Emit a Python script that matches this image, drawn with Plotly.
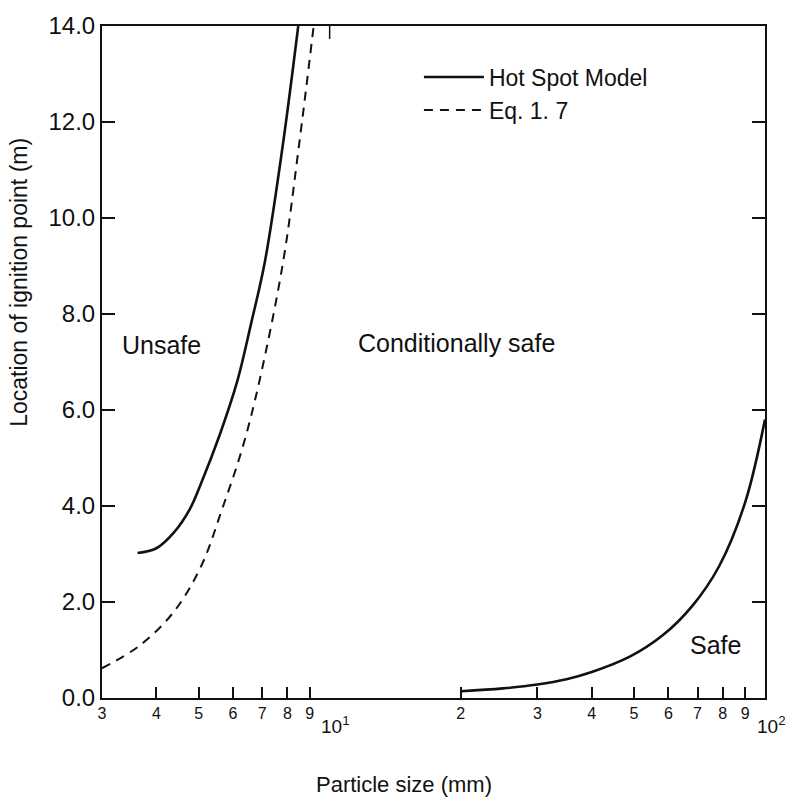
import math
import plotly.graph_objects as go

# Hot Spot Model, fine-particle branch (particle size in mm, ignition-point distance in m)
hot_small_x = [3.62, 4.0, 4.39, 4.77, 5.07, 5.6, 6.14, 6.6, 7.1, 7.8, 8.47]
hot_small_y = [3.02, 3.12, 3.45, 3.93, 4.48, 5.5, 6.61, 7.8, 9.09, 11.5, 14.0]

# Hot Spot Model, coarse-particle branch
hot_large_x = [20, 25, 30, 35, 40, 48.9, 58.1, 68.1, 78.5, 90, 100]
hot_large_y = [0.14, 0.2, 0.28, 0.39, 0.54, 0.86, 1.30, 1.92, 2.75, 4.07, 5.8]

# Eq. 1.7 prediction
eq_x = [3.0, 3.67, 4.39, 5.07, 5.66, 6.3, 6.9, 7.82, 8.5, 9.19]
eq_y = [0.62, 1.10, 1.80, 2.75, 3.93, 5.2, 6.61, 9.09, 11.5, 14.0]

# Axis ticks
x_minor_vals = [3, 4, 5, 6, 7, 8, 9, 20, 30, 40, 50, 60, 70, 80, 90]
x_minor_text = ["3", "4", "5", "6", "7", "8", "9", "2", "3", "4", "5", "6", "7", "8", "9"]
x_decades = [10, 100]
x_decade_text = ["10<sup>1</sup>", "10<sup>2</sup>"]
x_top_ticks = [10]
y_vals = [0, 2, 4, 6, 8, 10, 12, 14]
y_text = ["0.0", "2.0", "4.0", "6.0", "8.0", "10.0", "12.0", "14.0"]

# Region labels: (text, particle size, distance)
regions = [("Unsafe", 3.3, 7.35), ("Conditionally safe", 11.5, 7.4), ("Safe", 66.5, 1.1)]

FONT = "Liberation Sans, Arial, Helvetica, sans-serif"
INK = "#111111"

fig = go.Figure()
fig.add_trace(go.Scatter(
    x=hot_small_x, y=hot_small_y, mode="lines", name="Hot Spot Model",
    legendgroup="hot", line=dict(color=INK, width=2.6, shape="spline"),
))
fig.add_trace(go.Scatter(
    x=hot_large_x, y=hot_large_y, mode="lines", name="Hot Spot Model",
    legendgroup="hot", showlegend=False,
    line=dict(color=INK, width=2.6, shape="spline"),
))
fig.add_trace(go.Scatter(
    x=eq_x, y=eq_y, mode="lines", name="Eq. 1. 7",
    line=dict(color=INK, width=2.0, dash="9px,7px", shape="spline"),
))

# annotation positions on a log axis are given in log10 units
annotations = []
for text, x, y in regions:
    annotations.append(dict(
        text=text, x=math.log10(x), y=y, xref="x", yref="y",
        xanchor="left", yanchor="middle", showarrow=False,
        font=dict(family=FONT, size=25, color=INK),
    ))
for val, text in zip(x_decades, x_decade_text):
    annotations.append(dict(
        text=text, x=math.log10(val), y=-0.04, xref="x", yref="paper",
        xanchor="center", yanchor="middle", xshift=6, showarrow=False,
        font=dict(family=FONT, size=19, color=INK),
    ))
annotations.append(dict(
    text="Particle size (mm)", x=0.455, y=-0.129, xref="paper", yref="paper",
    xanchor="center", yanchor="middle", showarrow=False,
    font=dict(family=FONT, size=22, color=INK),
))
annotations.append(dict(
    text="Location of ignition point (m)", x=-0.125, y=0.618, xref="paper", yref="paper",
    xanchor="center", yanchor="middle", textangle=-90, showarrow=False,
    font=dict(family=FONT, size=23, color=INK),
))

# inward tick on the top frame, sized in pixels from the top edge
shapes = []
for val in x_top_ticks:
    shapes.append(dict(
        type="line", xref="x", yref="paper", x0=val, x1=val,
        ysizemode="pixel", yanchor=1, y0=0, y1=-13,
        line=dict(color=INK, width=1.5),
    ))

fig.update_layout(
    width=794, height=798,
    margin=dict(l=102, r=29, t=22, b=100),
    paper_bgcolor="white", plot_bgcolor="white",
    font=dict(family=FONT, color=INK),
    showlegend=True,
    legend=dict(
        x=0.478, y=0.956, xanchor="left", yanchor="top",
        bgcolor="rgba(0,0,0,0)", font=dict(family=FONT, size=23, color=INK),
        tracegroupgap=0, itemwidth=60,
    ),
    annotations=annotations,
    shapes=shapes,
    xaxis=dict(
        type="log", range=[0.4771, 2.0],
        tickmode="array", tickvals=x_minor_vals, ticktext=x_minor_text,
        ticks="inside", ticklen=11, tickwidth=1.5, tickcolor=INK,
        tickfont=dict(family=FONT, size=16, color=INK),
        showline=True, linecolor=INK, linewidth=2, mirror=True,
        showgrid=False, zeroline=False,
    ),
    yaxis=dict(
        range=[0, 14],
        tickmode="array", tickvals=y_vals, ticktext=y_text,
        ticks="inside", ticklen=13, tickwidth=1.5, tickcolor=INK,
        tickfont=dict(family=FONT, size=24, color=INK),
        showline=True, linecolor=INK, linewidth=2, mirror="ticks",
        showgrid=False, zeroline=False,
    ),
)

fig.write_html("out.html")
